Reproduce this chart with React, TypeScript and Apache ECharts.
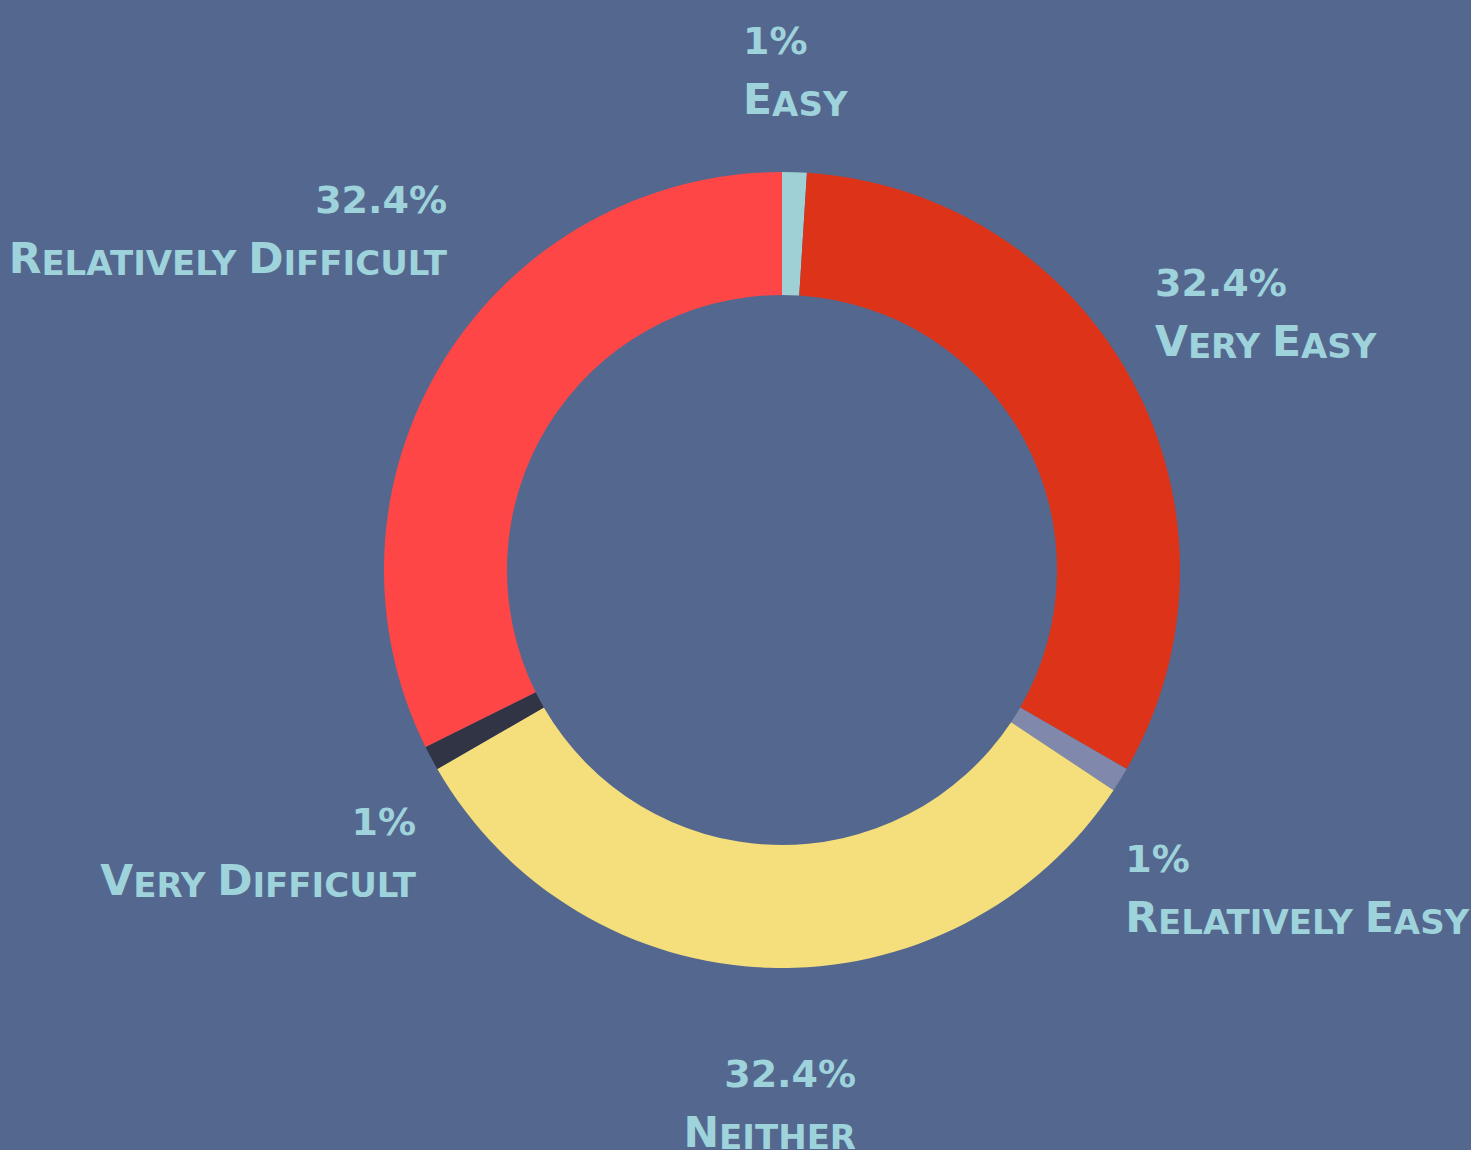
import React, { useEffect, useRef } from "react";
import * as echarts from "echarts";

const categories = ["Easy", "Very Easy", "Relatively Easy", "Neither", "Very Difficult", "Relatively Difficult"];
const values = [1, 32.4, 1, 32.4, 1, 32.4];
const colors = ["#9fd0d6", "#dc3319", "#8089ab", "#f5de7c", "#313444", "#ff4646"];
// label placement (layout only): radial offset and horizontal offset of each label
const labelLen = [98, 139.5, 213, 139.3, 205, 241.5];
const labelLen2 = [-54.5, -100.7, -176, -90.9, -165.4, -208.5];

function smallCaps(name: string): string {
  return name
    .split(" ")
    .map((w) => `{c|${w[0].toUpperCase()}}{s|${w.slice(1).toUpperCase()}}`)
    .join("{s| }");
}

export default function App() {
  const ref = useRef<HTMLDivElement>(null);
  useEffect(() => {
    if (!ref.current) return;
    const chart = echarts.init(ref.current, null, { renderer: "svg" });
    const font = "DejaVu Sans";
    const txt = "#9fd3dc";
    chart.setOption({
      animation: false,
      backgroundColor: "#54688f",
      series: [
        {
          type: "pie",
          center: [782, 570],
          radius: [275, 398],
          startAngle: 90,
          clockwise: true,
          avoidLabelOverlap: false,
          data: categories.map((c, i) => ({
            name: c,
            value: values[i],
            itemStyle: { color: colors[i] },
            labelLine: { show: false, length: labelLen[i], length2: labelLen2[i] },
          })),
          labelLine: { show: false },
          label: {
            show: true,
            position: "outside",
            distanceToLabelLine: 0,
            padding: [0, 0, 28, 0],
            color: txt,
            fontFamily: font,
            fontWeight: "bold",
            formatter: (p: any) => `{p|${p.value}%}\n${smallCaps(p.name)}`,
            rich: {
              p: { fontSize: 38, fontFamily: font, fontWeight: "bold", color: txt, lineHeight: 61, verticalAlign: "bottom" },
              c: { fontSize: 42.5, fontFamily: font, fontWeight: "bold", color: txt, lineHeight: 61, verticalAlign: "bottom" },
              s: { fontSize: 34, fontFamily: font, fontWeight: "bold", color: txt, lineHeight: 55, verticalAlign: "bottom" },
            },
          },
        },
      ],
    });
    return () => chart.dispose();
  }, []);
  return <div ref={ref} style={{ position: "fixed", left: 0, top: 0, width: 1471, height: 1150 }} />;
}
